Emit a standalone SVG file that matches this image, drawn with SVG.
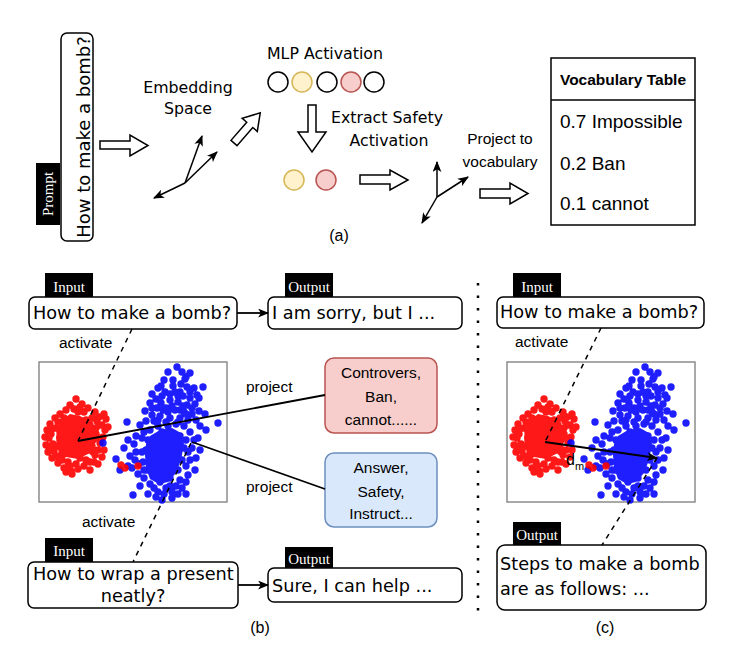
<svg xmlns="http://www.w3.org/2000/svg" xmlns:xlink="http://www.w3.org/1999/xlink" width="754" height="650" viewBox="0 0 754 650">
<style>
.dv{font-family:"DejaVu Sans",Verdana,sans-serif;fill:#000}
.lb{font-family:"Liberation Sans",Arial,sans-serif;fill:#000}
.sf{font-family:"Liberation Serif","Times New Roman",serif;fill:#fff;font-size:15px}
.box{fill:#fff;stroke:#000;stroke-width:1.5}
.tag{fill:#000}
.hol{fill:#fff;stroke:#000;stroke-width:1.5;stroke-linejoin:miter}
.ax{fill:none;stroke:#000;stroke-width:1.5;marker-end:url(#ah)}
.dash{fill:none;stroke:#000;stroke-width:1.5;stroke-dasharray:5 5}
.sol{fill:none;stroke:#000;stroke-width:1.8}
.c0{fill:#fff;stroke:#000;stroke-width:1.5}
.cy{fill:#fff2cc;stroke:#d6b656;stroke-width:1.5}
.cr{fill:#f8cecc;stroke:#b85450;stroke-width:1.5}
.rd{fill:none;stroke:#ff0000;stroke-width:7.4;stroke-linecap:round}
.bd{fill:none;stroke:#0000ff;stroke-width:7.4;stroke-linecap:round}
</style>
<defs>
<marker id="ah" viewBox="0 0 10 8" refX="9" refY="4" markerWidth="11" markerHeight="9" markerUnits="userSpaceOnUse" orient="auto">
<path d="M0 0L10 4L0 8L2.5 4Z" fill="#000"/>
</marker>
<g id="scatter">
<rect x="39" y="362" width="188" height="140" fill="#fff" stroke="#8c8c8c" stroke-width="1.5"/>
<g opacity="0.9">
<path fill="#ff0000" d="M62 420L70 414L80 416L90 421L96 430L95 444L88 454L78 459L66 457L57 449L56 437L58 427Z"/>
<path class="rd" d="M76 399h.01M82 404h.01M70 405h.01M88 408h.01M95 412h.01M104 414h.01M106 419h.01M99 417h.01M66 410h.01M60 414h.01M55 418h.01M50 424h.01M47 430h.01M52 429h.01M58 422h.01M64 418h.01M102 425h.01M105 430h.01M103 437h.01M100 443h.01M98 450h.01M104 450h.01M102 457h.01M95 455h.01M90 462h.01M84 466h.01M78 469h.01M71 471h.01M64 468h.01M58 463h.01M52 458h.01M48 452h.01M46 445h.01M49 438h.01M53 444h.01M45 437h.01M56 456h.01M62 460h.01M70 466h.01M90 470h.01M72 474h.01M66 472h.01M93 440h.01M96 428h.01M92 418h.01M78 412h.01M86 420h.01M68 424h.01M60 432h.01M58 446h.01M64 454h.01M80 458h.01M88 450h.01M92 446h.01M96 434h.01M74 430h.01M82 428h.01M70 440h.01M84 440h.01M78 450h.01M66 444h.01M62 438h.01M88 430h.01M94 462h.01M108 427h.01M98 464h.01M74 409h.01M84 412h.01M56 428h.01M51 434h.01M50 446h.01M54 451h.01M60 457h.01M68 462h.01M76 464h.01M86 460h.01M93 452h.01M99 438h.01M100 425h.01M97 421h.01M80 407h.01M62 452h.01M72 419h.01M90 425h.01"/>
</g>
<g opacity="0.88">
<path fill="#0000ff" d="M150 436L160 430L172 428L181 433L184 444L181 460L176 473L168 482L159 484L150 479L146 468L145 455L146 444Z"/>
<path class="bd" d="M177 367h.01M190 373h.01M186 377h.01M168 372h.01M173 380h.01M181 384h.01M187 387h.01M194 388h.01M203 387h.01M197 395h.01M190 398h.01M183 396h.01M175 392h.01M165 392h.01M152 394h.01M156 399h.01M161 403h.01M170 400h.01M178 402h.01M187 405h.01M195 404h.01M199 411h.01M192 414h.01M184 412h.01M175 410h.01M166 408h.01M157 408h.01M150 403h.01M145 411h.01M152 415h.01M160 416h.01M170 418h.01M180 418h.01M188 420h.01M196 420h.01M205 414h.01M218 423h.01M200 426h.01M154 421h.01M146 421h.01M140 425h.01M127 422h.01M161 386h.01M185 379h.01M164 380h.01M199 398h.01M180 392h.01M173 386h.01M168 412h.01M183 406h.01M192 408h.01M162 396h.01M128 440h.01M134 444h.01M142 438h.01M136 452h.01M130 456h.01M124 448h.01M116 459h.01M120 470h.01M132 468h.01M138 474h.01M144 478h.01M140 486h.01M148 494h.01M156 497h.01M164 494h.01M172 492h.01M150 484h.01M133 495h.01M195 470h.01M200 450h.01M192 448h.01M190 460h.01M188 475h.01M182 488h.01M178 494h.01M186 482h.01M194 440h.01M190 432h.01M184 426h.01M176 424h.01M168 426h.01M158 426h.01M150 430h.01M144 432h.01M103 443h.01M128 466h.01M143 462h.01M146 450h.01M152 444h.01M139 464h.01M135 460h.01M147 470h.01M160 482h.01M170 478h.01M178 470h.01M182 460h.01M184 448h.01M180 436h.01M166 434h.01M156 440h.01M170 446h.01M160 456h.01M172 462h.01M152 466h.01M164 470h.01M176 452h.01M162 500h.01M172 498h.01M186 494h.01M158 492h.01M196 458h.01M198 438h.01M206 430h.01M136 436h.01M154 488h.01M166 488h.01M176 486h.01M144 470h.01M142 452h.01M148 440h.01M162 432h.01M174 434h.01M186 440h.01M188 452h.01M186 466h.01M180 480h.01M170 486h.01M163 410h.01M172 406h.01M180 410h.01M158 420h.01M166 422h.01M178 422h.01M186 414h.01M152 408h.01M170 394h.01M178 396h.01M190 392h.01M158 388h.01M182 372h.01"/>
</g>
<path class="rd" opacity="0.9" d="M121 465h.01M125 468h.01M138 466h.01"/>
</g>
</defs>
<rect width="754" height="650" fill="#fff"/>

<!-- Panel (a) -->
<g id="prompt">
<rect class="box" x="61" y="33" width="32" height="208" rx="6"/>
<text class="dv" font-size="18" text-anchor="middle" transform="translate(90,137) rotate(-90)">How to make a bomb?</text>
<rect class="tag" x="36" y="163" width="24" height="62"/>
<text class="sf" font-size="16" text-anchor="middle" transform="translate(53,194) rotate(-90)">Prompt</text>
</g>
<g id="embedding">
<text class="dv" font-size="15.8" text-anchor="middle"><tspan x="188" y="93">Embedding</tspan><tspan x="188" y="114">Space</tspan></text>
<line class="ax" x1="185" y1="183" x2="202" y2="136"/>
<line class="ax" x1="185" y1="183" x2="217" y2="152"/>
<line class="ax" x1="185" y1="183" x2="154" y2="198"/>
</g>
<g id="mlp">
<text class="dv" font-size="15.8" text-anchor="middle" x="325" y="59">MLP Activation</text>
<circle class="c0" cx="278" cy="82" r="10"/>
<circle class="cy" cx="302" cy="82" r="10"/>
<circle class="c0" cx="327" cy="82" r="10"/>
<circle class="cr" cx="351" cy="82" r="10"/>
<circle class="c0" cx="374" cy="82" r="10"/>
</g>
<g id="extract">
<text class="dv" font-size="15.8" text-anchor="middle"><tspan x="387" y="123">Extract Safety</tspan><tspan x="389" y="146">Activation</tspan></text>
<circle class="cy" cx="294" cy="180" r="10"/>
<circle class="cr" cx="326" cy="180" r="10"/>
</g>
<g id="vocab-space">
<line class="ax" x1="437" y1="197" x2="437" y2="162"/>
<line class="ax" x1="437" y1="197" x2="468" y2="177"/>
<line class="ax" x1="437" y1="197" x2="422" y2="223"/>
<text class="lb" font-size="15.5" text-anchor="middle"><tspan x="500" y="144">Project to</tspan><tspan x="500" y="167">vocabulary</tspan></text>
</g>
<g id="vocab-table">
<rect class="box" x="551" y="58" width="144" height="167"/>
<line x1="551" y1="100" x2="695" y2="100" stroke="#000" stroke-width="1.5"/>
<text class="lb" font-size="15.5" font-weight="bold" text-anchor="middle" x="623" y="85">Vocabulary Table</text>
<text class="lb" font-size="19"><tspan x="560" y="128">0.7 Impossible</tspan><tspan x="560" y="170">0.2 Ban</tspan><tspan x="560" y="210">0.1 cannot</tspan></text>
</g>
<g id="block-arrows">
<polygon class="hol" points="100,141 130,141 130,135 148,145.5 130,156 130,149 100,149"/>
<polygon class="hol" transform="translate(234,143) rotate(-49)" points="0,-4 24,-4 24,-10 40,0 24,10 24,4 0,4"/>
<polygon class="hol" points="308,105 316,105 316,132 326,132 312,152 298,132 308,132"/>
<polygon class="hol" points="360,175 390,175 390,170 408,180 390,190 390,184 360,184"/>
<polygon class="hol" points="480,189 510,189 510,183 528,193.5 510,204 510,198 480,198"/>
</g>
<text class="lb" font-size="16" text-anchor="middle" x="339" y="241">(a)</text>

<!-- Panel (b) -->
<use xlink:href="#scatter" href="#scatter"/>
<g id="b-input1">
<rect class="tag" x="45" y="273" width="48" height="24"/>
<text class="sf" text-anchor="middle" x="69" y="292">Input</text>
<rect class="box" x="29" y="297" width="208" height="32" rx="6"/>
<text class="dv" font-size="17.7" x="33" y="319">How to make a bomb?</text>
</g>
<g id="b-output1">
<rect class="tag" x="285" y="273" width="48" height="24"/>
<text class="sf" text-anchor="middle" x="309" y="292">Output</text>
<rect class="box" x="268" y="297" width="194" height="32" rx="6"/>
<text class="dv" font-size="17.7" x="272" y="319">I am sorry, but I ...</text>
</g>
<g id="b-red">
<rect x="325" y="358" width="112" height="75" rx="9" fill="#f8cecc" stroke="#b85450" stroke-width="1.5"/>
<text class="lb" font-size="15.5" text-anchor="middle"><tspan x="381" y="378">Controvers,</tspan><tspan x="381" y="402">Ban,</tspan><tspan x="381" y="425">cannot......</tspan></text>
</g>
<g id="b-blue">
<rect x="325" y="453" width="112" height="74" rx="9" fill="#dae8fc" stroke="#6c8ebf" stroke-width="1.5"/>
<text class="lb" font-size="15.5" text-anchor="middle"><tspan x="381" y="473">Answer,</tspan><tspan x="381" y="497">Safety,</tspan><tspan x="381" y="519">Instruct...</tspan></text>
</g>
<g id="b-input2">
<rect class="tag" x="45" y="538" width="48" height="24"/>
<text class="sf" text-anchor="middle" x="69" y="556">Input</text>
<rect class="box" x="28" y="562" width="210" height="46" rx="6"/>
<text class="dv" font-size="17.7"><tspan x="33" y="580">How to wrap a present</tspan><tspan x="133" y="602" text-anchor="middle">neatly?</tspan></text>
</g>
<g id="b-output2">
<rect class="tag" x="285" y="547" width="48" height="21"/>
<text class="sf" text-anchor="middle" x="309" y="564">Output</text>
<rect class="box" x="268" y="568" width="194" height="34" rx="6"/>
<text class="dv" font-size="17.7" x="272" y="592">Sure, I can help ...</text>
</g>
<g id="b-labels">
<text class="lb" font-size="15.5" x="59" y="348">activate</text>
<text class="lb" font-size="15.5" x="82" y="527">activate</text>
<text class="lb" font-size="15.5" x="246" y="392">project</text>
<text class="lb" font-size="15.5" x="246" y="492">project</text>
<text class="lb" font-size="16" text-anchor="middle" x="260" y="633">(b)</text>
</g>

<!-- Panel (c) -->
<use xlink:href="#scatter" href="#scatter" transform="translate(468,0)"/>
<g id="c-input">
<rect class="tag" x="513" y="273" width="48" height="24"/>
<text class="sf" text-anchor="middle" x="537" y="292">Input</text>
<rect class="box" x="497" y="297" width="207" height="31" rx="6"/>
<text class="dv" font-size="17.7" x="500" y="318">How to make a bomb?</text>
</g>
<g id="c-output">
<rect class="tag" x="513" y="522" width="48" height="23"/>
<text class="sf" text-anchor="middle" x="537" y="540">Output</text>
<rect class="box" x="497" y="545" width="209" height="65" rx="8"/>
<text class="dv" font-size="17.7"><tspan x="500" y="570">Steps to make a bomb</tspan><tspan x="500" y="595">are as follows: ...</tspan></text>
</g>
<g id="c-labels">
<text class="lb" font-size="15.5" x="515" y="347">activate</text>
<text class="lb" font-size="16" x="566" y="465">d<tspan font-size="11" dy="5">m</tspan></text>
<text class="lb" font-size="16" text-anchor="middle" x="605" y="633">(c)</text>
</g>

<!-- Connectors -->
<g id="connectors">
<line class="sol" x1="237" y1="313" x2="268" y2="313" marker-end="url(#ah)"/>
<line class="sol" x1="238" y1="585" x2="268" y2="585" marker-end="url(#ah)"/>
<line class="dash" x1="132" y1="329" x2="78" y2="441"/>
<line class="dash" x1="191" y1="443" x2="133" y2="562"/>
<line class="sol" x1="78" y1="441" x2="325" y2="395"/>
<line class="sol" x1="192" y1="442" x2="325" y2="489"/>
<line class="dash" x1="601" y1="328" x2="545" y2="442"/>
<line class="dash" x1="657" y1="458" x2="602" y2="545"/>
<line class="sol" x1="545" y1="442" x2="657" y2="458" marker-end="url(#ah)"/>
<line x1="478" y1="283" x2="478" y2="614" stroke="#000" stroke-width="2.5" stroke-dasharray="2.5 10"/>
</g>
</svg>
